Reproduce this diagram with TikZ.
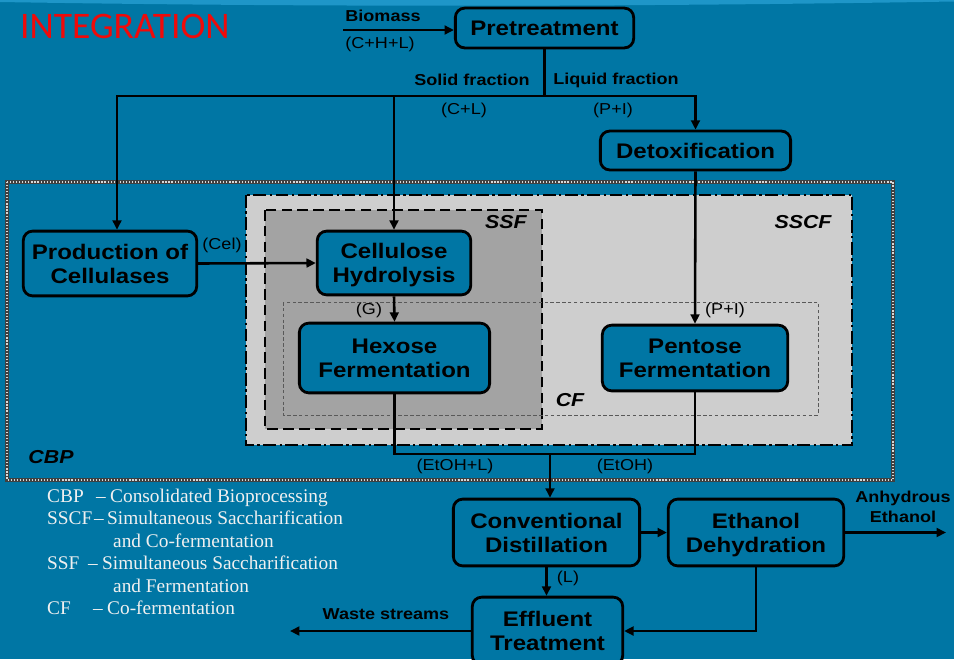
\documentclass[tikz,border=0pt]{standalone}
\usepackage{fontspec}
\setmainfont{Liberation Serif}
\newfontfamily\dfont[FakeStretch=1.14]{Liberation Sans}
\newfontfamily\titlefont{Carlito}
\usetikzlibrary{arrows.meta}

\definecolor{bg}{RGB}{0,118,164}
\definecolor{bglight}{RGB}{30,150,200}
\definecolor{ssclight}{RGB}{206,206,206}
\definecolor{ssfgray}{RGB}{163,163,163}
\definecolor{titlered}{RGB}{240,10,10}

\tikzset{
  box/.style={draw=black, line width=2.4pt, rounded corners=8pt, fill=bg,
    align=center, text=black, inner sep=0pt,
    font=\dfont\fontsize{18}{20.5}\selectfont\bfseries},
  conn/.style={draw=black, line width=2.2pt},
  arr/.style={conn, -{Triangle[length=8pt,width=7.5pt]}},
  lbl/.style={text=black, inner sep=0pt, font=\dfont\fontsize{13.5}{15.5}\selectfont\bfseries},
  lblr/.style={text=black, inner sep=0pt, font=\dfont\fontsize{13.5}{15.5}\selectfont},
  zone/.style={text=black, inner sep=0pt, font=\dfont\fontsize{16}{18}\selectfont\bfseries\itshape},
  legend/.style={text=white!94!black, inner sep=0pt, anchor=base west,
    font=\fontsize{16.5}{20}\selectfont},
}

\begin{document}
\begin{tikzpicture}[x=0.03cm, y=-0.03cm]
\useasboundingbox (0,0) rectangle (954,659);
\clip (0,0) rectangle (954,659);
\fill[bg] (0,0) rectangle (954,659);
% faint sheen along the top edge
\fill[bglight] (0,0) -- (954,0) -- (954,1.5) .. controls (620,7) and (300,7) .. (0,2) -- cycle;

% title
\node[anchor=west, text=titlered, inner sep=0pt, font=\titlefont\fontsize{32}{36}\selectfont]
  (title) at (20,26) {INTEGRATION};

% process regions
\draw[black!75, line width=2.6pt] (7,182) rectangle (893,480);
\draw[white!85!black, line width=1.1pt, dash pattern=on 1pt off 1.6pt] (7,182) rectangle (893,480);
\fill[ssclight] (246,195) rectangle (852,445);
\draw[black, line width=2pt, dash pattern=on 11pt off 3pt on 2pt off 3pt] (246,195) rectangle (852,445);
\fill[ssfgray] (265,210) rectangle (542,429);
\draw[black, line width=2pt, dash pattern=on 9pt off 4.5pt] (265,210) rectangle (542,429);
\draw[black!65, line width=0.8pt, dash pattern=on 3pt off 2pt] (283,302) rectangle (818,415);

\node[zone] (lssf) at (506,222) {SSF};
\node[zone] (lsscf) at (803,222) {SSCF};
\node[zone] (lcf) at (570,400) {CF};
\node[zone] (lcbp) at (51,457) {CBP};

% process units (descenders smashed so two-line labels sit centred)
\node[box, minimum width=152.2pt, minimum height=34pt] (pre) at (544.5,28) {Pretreatment};
\node[box, minimum width=162.4pt, minimum height=33.2pt] (detox) at (695.5,150.5) {Detoxification};
\node[box, minimum width=148pt, minimum height=55.3pt] (prod) at (110,263.5) {Production of\\Cellulases};
\node[box, minimum width=131pt, minimum height=54.4pt] (cell) at (394,263) {Cellulose\\H\smash{y}drol\smash{y}sis};
\node[box, minimum width=162.4pt, minimum height=59.5pt] (hex) at (394.5,358) {Hexose\\Fermentation};
\node[box, minimum width=158.2pt, minimum height=56.1pt] (pent) at (695,358) {Pentose\\Fermentation};
\node[box, minimum width=159pt, minimum height=57pt] (cd) at (546.5,532.5) {Conventional\\Distillation};
\node[box, minimum width=149.7pt, minimum height=57pt] (ed) at (756,532.5) {Ethanol\\Deh\smash{y}dration};
\node[box, minimum width=128.4pt, minimum height=57.8pt] (et) at (547.5,631) {Effluent\\Treatment};

% connectors
\coordinate (bio) at (343,30);
\coordinate (tl) at (117,96);
\coordinate (tr) at (695.5,96);
\coordinate (jn) at (550,454);
\coordinate (out) at (946,532.5);
\coordinate (waste) at (290,631);

\draw[arr] (bio) -- (bio -| pre.west);
\draw[conn] (pre.south) -- (pre.south |- tl);
\draw[conn, {Triangle[length=8pt,width=7.5pt]}-{Triangle[length=8pt,width=7.5pt]}]
  (tl |- prod.north) -- (tl) -- (tr) -- (tr |- detox.north);
\draw[arr] (cell.north |- tl) -- (cell.north);
\draw[arr] (prod.east) -- (cell.west);
\draw[arr] (cell.south) -- (hex.north);
\draw[arr] (detox.south) -- (pent.north);
\draw[conn] (hex.south) |- (jn);
\draw[conn] (pent.south) |- (jn);
\draw[arr] (jn) -- (jn |- cd.north);
\draw[arr] (cd.east) -- (ed.west);
\draw[arr] (ed.east) -- (out);
\draw[arr] (cd.south) -- (cd.south |- et.north);
\draw[arr] (ed.south) |- (et.east);
\draw[arr] (et.west) -- (waste);

% stream labels
\node[lbl] (lbio) at (383,16) {Biomass};
\node[lblr] (lchl) at (380,44) {(C+H+L)};
\node[lbl] (lsolid) at (472,80) {Solid fraction};
\node[lbl] (lliquid) at (616,80) {Liquid fraction};
\node[lblr] (lcl) at (464,110) {(C+L)};
\node[lblr] (lpi) at (613,110) {(P+I)};
\node[lblr] (lcel) at (222,245) {(Cel)};
\node[lblr] (lg) at (369,310) {(G)};
\node[lblr] (lpi2) at (725,310) {(P+I)};
\node[lblr] (letohl) at (455,466) {(EtOH+L)};
\node[lblr] (letoh) at (625,466) {(EtOH)};
\node[lblr] (ll) at (568,578) {(L)};
\node[lbl] (lwaste) at (386,614) {Waste streams};
\node[lbl, align=center, font=\dfont\fontsize{13.5}{17}\selectfont\bfseries] (lanh) at (903,507) {Anhydrous\\Ethanol};

% abbreviations
\node[legend] (a1) at (47,502) {CBP};
\node[legend] (m1) at (96,502) {–};
\node[legend] (d1) at (110,502) {Consolidated Bioprocessing};
\node[legend] (a2) at (47,524) {SSCF};
\node[legend] (m2) at (94,524) {–};
\node[legend] (d2) at (107,524) {Simultaneous Saccharification};
\node[legend] (c2) at (113,547) {and Co-fermentation};
\node[legend] (a3) at (47,569) {SSF};
\node[legend] (m3) at (88,569) {–};
\node[legend] (d3) at (102,569) {Simultaneous Saccharification};
\node[legend] (c3) at (113,592) {and Fermentation};
\node[legend] (a4) at (47,614) {CF};
\node[legend] (m4) at (93,614) {–};
\node[legend] (d4) at (107,614) {Co-fermentation};
\end{tikzpicture}
\end{document}
